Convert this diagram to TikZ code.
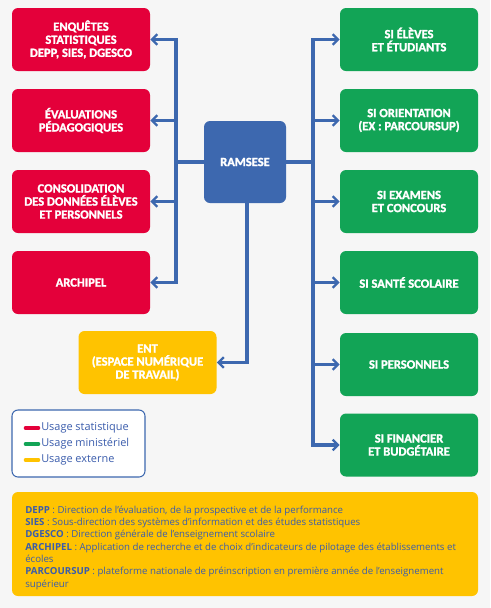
\documentclass[tikz,border=0pt]{standalone}
\usepackage{fontspec}
\setmainfont{Open Sans}
\newfontfamily\boxfont[BoldFeatures={FakeBold=1.6}]{Carlito}
\usetikzlibrary{arrows.meta}

\definecolor{fond}{HTML}{F6F6F6}
\definecolor{rouge}{HTML}{E4003A}
\definecolor{vert}{HTML}{12A456}
\definecolor{bleu}{HTML}{3D68AF}
\definecolor{jaune}{HTML}{FFC300}
\definecolor{texte}{HTML}{3A5CAC}

\tikzset{
  sysbox/.style={rounded corners=4.5pt, minimum width=103.5pt, minimum height=47.25pt,
    inner sep=0.75pt, align=center, text=white,
    font=\boxfont\bfseries\fontsize{9.4}{9.8}\selectfont},
  statbox/.style={sysbox, fill=rouge},
  minbox/.style={sysbox, fill=vert},
  extbox/.style={sysbox, fill=jaune},
  link/.style={draw=bleu, line width=2.6pt},
  arr/.style={link, -{Straight Barb[length=4pt,width=8pt,line width=1.8pt]}},
  legbar/.style={line width=3.5pt, line cap=round},
  legtext/.style={anchor=west, inner sep=0.75pt, text=texte, font=\fontsize{8.2}{9}\selectfont},
}

\begin{document}
\begin{tikzpicture}[x=0.75pt,y=0.75pt,yscale=-1,xscale=1]
% background
\fill[fond] (0,0) rectangle (490,608);
\useasboundingbox (0,0) rectangle (490,608);

% Central node
\node[sysbox, fill=bleu, minimum width=61.5pt, minimum height=61.5pt] (ram) at (245,162) {RAMSESE};

% Left column (usage statistique)
\node[statbox] (enq) at (81,39.5) {ENQUÊTES\\STATISTIQUES\\DEPP, SIES, DGESCO};
\node[statbox] (eval) at (81,120.5) {ÉVALUATIONS\\PÉDAGOGIQUES};
\node[statbox] (cons) at (81,201.5) {CONSOLIDATION\\DES DONNÉES ÉLÈVES\\ET PERSONNELS};
\node[statbox] (arch) at (81,282.5) {ARCHIPEL};

% Right column (usage ministériel)
\node[minbox] (sieleves) at (409,39.5) {SI ÉLÈVES\\ET ÉTUDIANTS};
\node[minbox] (siorient) at (409,120.5) {SI ORIENTATION\\(EX : PARCOURSUP)};
\node[minbox] (siexam) at (409,201.5) {SI EXAMENS\\ET CONCOURS};
\node[minbox] (sisante) at (409,282.5) {SI SANTÉ SCOLAIRE};
\node[minbox] (sipers) at (409,364.5) {SI PERSONNELS};
\node[minbox] (sifin) at (409,445) {SI FINANCIER\\ET BUDGÉTAIRE};

% External
\node[extbox] (ent) at (147.5,362.5) {ENT\\(ESPACE NUMÉRIQUE\\DE TRAVAIL)};

% Connections
\coordinate (lt) at (176,162);
\coordinate (rt) at (313,162);
\draw[link] (ram.west) -- (lt);
\draw[link] (ram.east) -- (rt);
\foreach \b in {enq,eval,cons,arch}
  \draw[arr] (lt) |- (\b.east);
\foreach \b in {sieleves,siorient,siexam,sisante,sipers,sifin}
  \draw[arr] (rt) |- (\b.west);
\draw[arr] ([xshift=1.5pt]ram.south) |- (ent.east);

% Legend
\node[draw=bleu, line width=0.8pt, fill=white, rounded corners=4.5pt,
  minimum width=99.75pt, minimum height=50.25pt] (leg) at (78.5,443.5) {};
\node[legtext] (l1) at (40,428) {Usage statistique};
\node[legtext] (l2) at (40,444) {Usage ministériel};
\node[legtext] (l3) at (40,460) {Usage externe};
\draw[legbar, rouge] ([xshift=-10.5pt]l1.west) -- ([xshift=-1.5pt]l1.west);
\draw[legbar, vert] ([xshift=-10.5pt]l2.west) -- ([xshift=-1.5pt]l2.west);
\draw[legbar, jaune] ([xshift=-10.5pt]l3.west) -- ([xshift=-1.5pt]l3.west);

% Glossary
\node[fill=jaune, rounded corners=4.5pt, minimum width=349.5pt, minimum height=78pt] (gloss) at (245,544) {};
\node[anchor=north west, inner sep=0pt, align=left, text=texte,
  font=\fontsize{7.25}{9.25}\selectfont] (glosstext) at (25,505.5)
  {\textbf{DEPP} : Direction de l’évaluation, de la prospective et de la performance\\
   \textbf{SIES} : Sous-direction des systèmes d’information et des études statistiques\\
   \textbf{DGESCO} : Direction générale de l’enseignement scolaire\\
   \textbf{ARCHIPEL} : Application de recherche et de choix d’indicateurs de pilotage des établissements et\\
   écoles\\
   \textbf{PARCOURSUP} : plateforme nationale de préinscription en première année de l’enseignement\\
   supérieur};

\end{tikzpicture}
\end{document}
